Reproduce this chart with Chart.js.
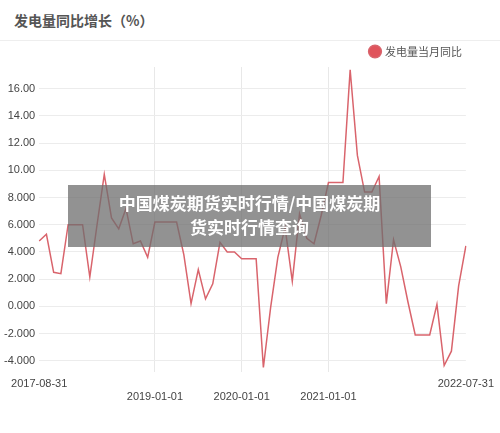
<!DOCTYPE html>
<html><head><meta charset="utf-8">
<script src="https://cdn.jsdelivr.net/npm/chart.js@4"></script>
<style>
body{margin:0;width:500px;height:433px;background:#fff;font-family:"Noto Sans CJK SC","Noto Sans",sans-serif;position:relative;overflow:hidden}
#title{position:absolute;left:14px;top:10px;font-size:14px;color:#555;font-weight:bold}
#hr{position:absolute;left:0;right:0;top:40px;border-top:1px solid #eee}
#wrap{position:absolute;left:0;top:38px;width:500px;height:372px}
#wm{position:absolute;left:68px;top:185px;width:363px;height:62px;background:rgba(110,110,110,0.75);color:#fff;font-weight:bold;font-size:17px;text-align:center;line-height:24px;padding-top:6px;box-sizing:border-box}
</style></head><body>
<div id="title">发电量同比增长（%）</div>
<div id="hr"></div>
<div id="wrap"><canvas id="c"></canvas></div>
<div id="wm">中国煤炭期货实时行情/中国煤炭期<br>货实时行情查询</div>
<script>
const seriesName = "发电量当月同比";
const values = [4.8,5.3,2.5,2.4,6.0,6.0,6.0,2.15,6.0,9.7,6.5,5.7,7.2,4.6,4.8,3.6,6.2,6.2,6.2,6.2,3.8,0.2,2.7,0.55,1.65,4.7,4.0,4.0,3.5,3.5,3.5,-4.5,-0.1,3.6,5.8,1.85,6.8,5.0,4.6,6.7,9.1,9.1,9.1,17.4,11.1,8.4,8.4,9.55,0.2,4.9,2.9,0.3,-2.1,-2.1,-2.1,0.15,-4.35,-3.3,1.5,4.45];
const categories = values.map((v,i)=>"m"+i);
const xTickIdx = [0,16,28,40,59];
const xTickLabels = ["2017-08-31","2019-01-01","2020-01-01","2021-01-01","2022-07-31"];
const xTickRow = [0,1,1,1,0];
const yTickVals = [-4,-2,0,2,4,6,8,10,12,14,16];
const yTickLabels = ["-4.000","-2.000","0.000","2.000","4.000","6.000","8.000","10.00","12.00","14.00","16.00"];
new Chart(document.getElementById('c'),{
 type:'line',
 data:{labels:categories,datasets:[{label:seriesName,data:values,borderColor:'#d9646c',backgroundColor:'#e0535b',borderWidth:1.5,pointRadius:0,tension:0}]},
 options:{responsive:true,maintainAspectRatio:false,animation:false,
  layout:{padding:{left:0,right:30,top:0,bottom:0}},
  plugins:{legend:{align:'end',labels:{usePointStyle:true,pointStyle:'circle',boxWidth:9,boxHeight:9,color:'#555',font:{size:11,family:'"Noto Sans CJK SC"'},padding:8}},tooltip:{enabled:false}},
  scales:{
   x:{offset:false,grid:{color:ctx=>xTickIdx.slice(1,4).includes(ctx.index)?'#e8e8e8':'rgba(0,0,0,0)',drawTicks:false},border:{display:false},
      ticks:{autoSkip:false,maxRotation:0,color:'#444',font:{size:11},padding:6,
        callback:(v,i)=>{const k=xTickIdx.indexOf(i);if(k<0)return '';return xTickRow[k]?['',xTickLabels[k]]:xTickLabels[k];}}},
   y:{min:-4.8,max:17.6,afterBuildTicks:a=>{a.ticks=yTickVals.map(v=>({value:v}));},grid:{color:'#ececec',drawTicks:false},border:{display:false},
      ticks:{color:'#444',font:{size:11},padding:4,callback:v=>yTickLabels[yTickVals.indexOf(v)]}}
  }}
});
</script></body></html>
